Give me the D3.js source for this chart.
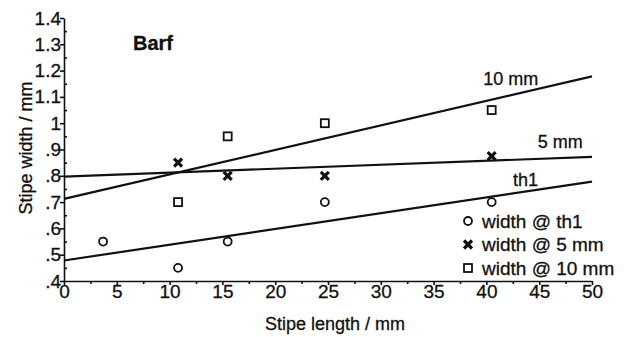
<!DOCTYPE html>
<html>
<head>
<meta charset="utf-8">
<script src="https://cdn.jsdelivr.net/npm/d3@7"></script>
<style>
  body { margin: 0; background: #fff; }
  text { font-family: "Liberation Sans", Arial, sans-serif; fill: #111; stroke: #111; stroke-width: 0.3; }
</style>
</head>
<body>
<svg id="chart" width="624" height="337"></svg>
<script>
// stipe lengths (mm) where widths were measured
const th1X = [3.7, 10.8, 15.5, 24.7, 40.5]
const th1Y = [0.55, 0.45, 0.55, 0.70, 0.70]
const mm5X = [10.8, 15.5, 24.7, 40.5]
const mm5Y = [0.85, 0.80, 0.80, 0.875]
const mm10X = [10.8, 15.5, 24.7, 40.5]
const mm10Y = [0.70, 0.95, 1.00, 1.05]

// fitted lines, value at x = 0 and x = 50
const fitNames = ['th1', '5 mm', '10 mm']
const fitStart = [0.478, 0.797, 0.712]
const fitEnd = [0.778, 0.872, 1.178]
// where each fit label sits (data coords)
const labelX = [43.7, 47, 42.3]
const labelY = [0.76, 0.905, 1.145]

const legendLabels = ['width @ th1', 'width @ 5 mm', 'width @ 10 mm']
const xTicks = d3.range(0, 51, 5)
const yTicks = d3.range(4, 15).map(d => d / 10)

const svg = d3.select('#chart')
const x = d3.scaleLinear().domain([0, 50]).range([64, 592])
const y = d3.scaleLinear().domain([0.4, 1.4]).range([281, 18])

const fmtY = d => d === 1 ? '1' : (d < 1 ? d3.format('.1f')(d).replace(/^0/, '') : d3.format('.1f')(d))

// minor ticks first so the main axis line sits on top
svg.append('g')
  .attr('transform', `translate(${x(0)},0)`)
  .call(d3.axisLeft(y).tickValues(d3.range(0.45, 1.4, 0.1)).tickSize(-3).tickFormat(''))
  .call(g => g.select('.domain').remove())
svg.append('g')
  .attr('transform', `translate(0,${y(0.4)})`)
  .call(d3.axisBottom(x).tickValues(d3.range(2.5, 50, 5)).tickSize(3).tickFormat(''))
  .call(g => g.select('.domain').remove())

const yAxis = svg.append('g')
  .attr('transform', `translate(${x(0)},0)`)
  .call(d3.axisLeft(y).tickValues(yTicks).tickFormat(fmtY).tickSize(4).tickSizeOuter(0).tickPadding(-1))
yAxis.selectAll('text').attr('font-size', 19)

const xAxis = svg.append('g')
  .attr('transform', `translate(0,${y(0.4)})`)
  .call(d3.axisBottom(x).tickValues(xTicks).tickSize(4).tickSizeOuter(0).tickPadding(0))
xAxis.selectAll('text').attr('font-size', 19)

svg.selectAll('.domain, .tick line').attr('stroke', '#111').attr('stroke-width', 1.6)

svg.append('text')
  .attr('x', x(25) + 7).attr('y', 330)
  .attr('text-anchor', 'middle').attr('font-size', 18)
  .text('Stipe length / mm')

svg.append('text')
  .attr('transform', 'translate(32,148) rotate(-90)')
  .attr('text-anchor', 'middle').attr('font-size', 18)
  .text('Stipe width / mm')

svg.append('text')
  .attr('x', 133).attr('y', 50)
  .attr('font-size', 20).attr('font-weight', 'bold')
  .text('Barf')

// fitted lines
fitNames.forEach((name, i) => {
  svg.append('line')
    .attr('x1', x(0)).attr('y1', y(fitStart[i]))
    .attr('x2', x(50)).attr('y2', y(fitEnd[i]))
    .attr('stroke', '#111').attr('stroke-width', 2.2)
  svg.append('text')
    .attr('x', x(labelX[i])).attr('y', y(labelY[i]))
    .attr('text-anchor', 'middle').attr('font-size', 18)
    .text(name)
})

function circle(g, cx, cy) {
  g.append('circle').attr('cx', cx).attr('cy', cy).attr('r', 4)
    .attr('fill', '#fff').attr('stroke', '#111').attr('stroke-width', 1.8)
}
function square(g, cx, cy) {
  g.append('rect').attr('x', cx - 4).attr('y', cy - 4).attr('width', 8).attr('height', 8)
    .attr('fill', '#fff').attr('stroke', '#111').attr('stroke-width', 1.8)
}
function cross(g, cx, cy) {
  g.append('path')
    .attr('d', `M${cx - 4},${cy - 4}L${cx + 4},${cy + 4}M${cx + 4},${cy - 4}L${cx - 4},${cy + 4}`)
    .attr('stroke', '#111').attr('stroke-width', 3.2)
}

const pts = svg.append('g')
th1X.forEach((d, i) => circle(pts, x(d), y(th1Y[i])))
mm5X.forEach((d, i) => cross(pts, x(d), y(mm5Y[i])))
mm10X.forEach((d, i) => square(pts, x(d), y(mm10Y[i])))

// legend
const legend = svg.append('g').attr('transform', 'translate(468,221)')
const markers = [circle, cross, square]
legendLabels.forEach((label, i) => {
  const row = legend.append('g').attr('transform', `translate(0,${i * 23.5})`)
  row.append('rect').attr('x', -6).attr('y', -10).attr('width', 150).attr('height', 22).attr('fill', '#fff')
  markers[i](row, 0, 0)
  row.append('text').attr('x', 14).attr('y', 6.5).attr('font-size', 19).text(label)
})
</script>
</body>
</html>
